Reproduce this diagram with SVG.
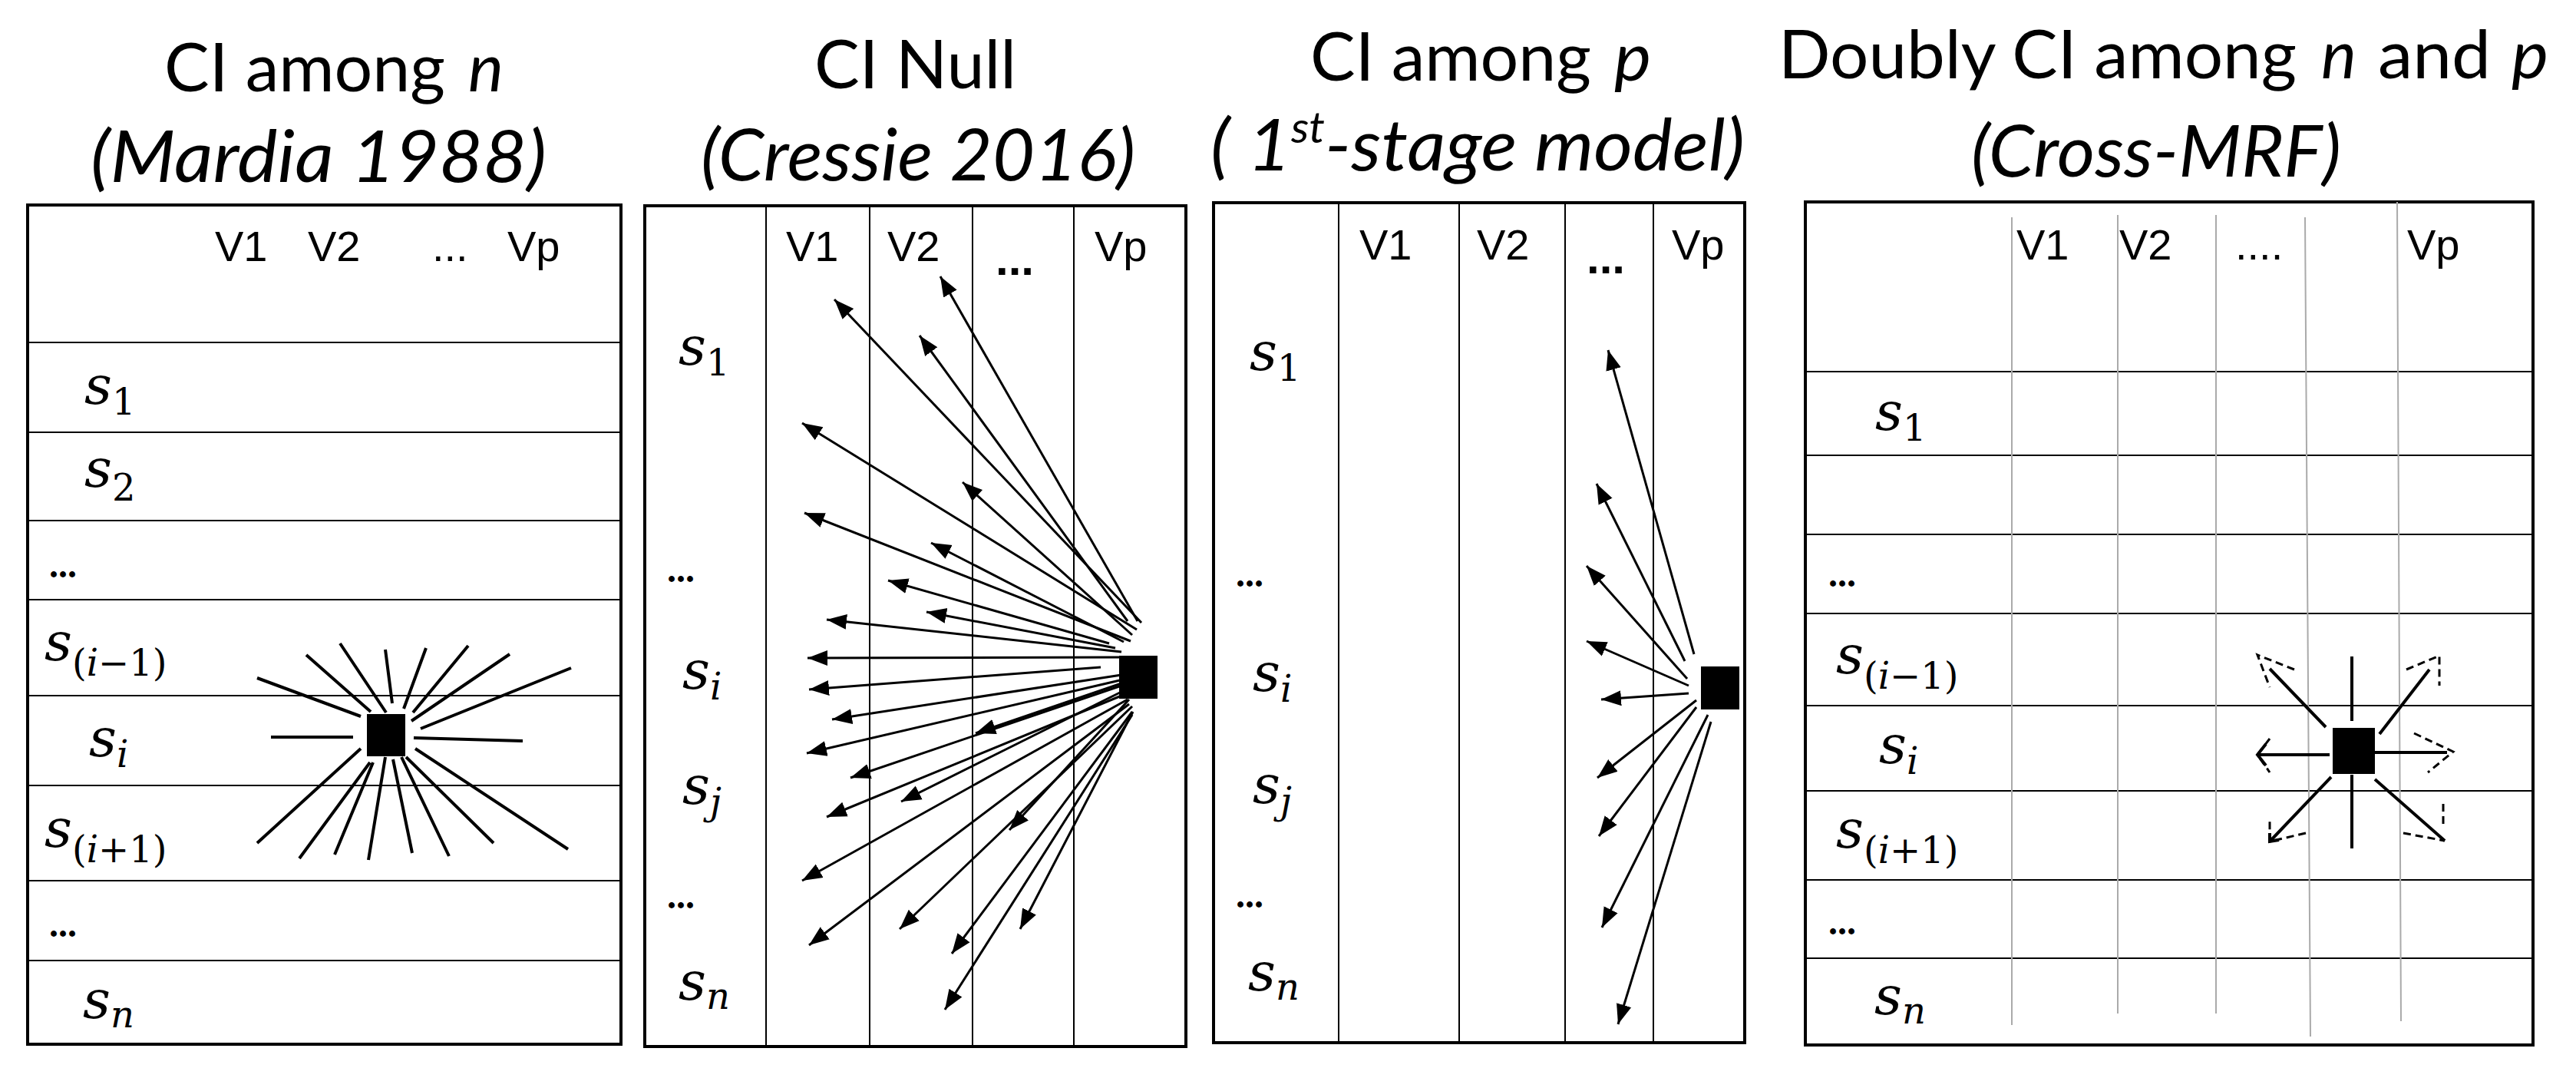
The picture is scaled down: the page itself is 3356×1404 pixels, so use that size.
<svg xmlns="http://www.w3.org/2000/svg" width="3356" height="1404" viewBox="0 0 3356 1404">
<style>
.title{font-family:Lato,"Liberation Sans",sans-serif;font-size:88px;fill:#000;text-anchor:start}
.t2{font-size:94px}
.hdr{font-family:"Liberation Sans",Arial,sans-serif;font-size:56px;fill:#000}
.dots{font-family:"Liberation Sans",Arial,sans-serif;font-size:60px;font-weight:bold;fill:#000}
.row{font-family:"DejaVu Serif",serif;font-size:70px;fill:#000}
.sub{font-size:48px}
.it{font-style:italic}
.box{fill:#fff;stroke:#000;stroke-width:4}
.grid{stroke:#000;stroke-width:2;fill:none}
.gray{stroke:#aaa;stroke-width:2;fill:none}
.rdots{font-family:"Liberation Serif",serif;font-size:48px;font-weight:bold;fill:#000}
.ray{stroke:#000;stroke-width:4;fill:none}
.arr{stroke:#000;stroke-width:3;fill:none;marker-end:url(#ah)}
.sol{stroke:#000;stroke-width:4;fill:none}
.dash{stroke:#000;stroke-width:3;fill:none;stroke-dasharray:10 6}
</style>
<defs>
<marker id="ah" markerUnits="userSpaceOnUse" markerWidth="28" markerHeight="22" refX="26" refY="10" orient="auto" viewBox="0 0 28 20">
<path d="M0,0 L26,10 L0,20 z" fill="#000"/>
</marker>
</defs>

<!-- Panel 1 -->
<g id="panel1">
<text class="title" x="214" y="119" textLength="366" lengthAdjust="spacingAndGlyphs">CI among</text>
<text class="title it" x="610" y="119" textLength="46" lengthAdjust="spacingAndGlyphs">n</text>
<text class="title t2 it" x="118" y="237" textLength="594" lengthAdjust="spacingAndGlyphs">(Mardia 1988)</text>
<rect class="box" x="36" y="267" width="773" height="1093"/>
<path class="grid" d="M36,446H809M36,563H809M36,678H809M36,781H809M36,906H809M36,1023H809M36,1147H809M36,1251H809"/>
<text class="hdr" x="280" y="340">V1</text>
<text class="hdr" x="401" y="340">V2</text>
<text class="hdr" x="563" y="340">...</text>
<text class="hdr" x="661" y="340">Vp</text>
<text class="row" x="110" y="526"><tspan class="it">s</tspan><tspan class="sub" dy="14">1</tspan></text>
<text class="row" x="110" y="634"><tspan class="it">s</tspan><tspan class="sub" dy="18">2</tspan></text>
<text class="rdots" x="64" y="752">...</text>
<text class="row" x="58" y="860"><tspan class="it">s</tspan><tspan class="sub" dy="20">(<tspan class="it">i</tspan>−1)</tspan></text>
<text class="row" x="116" y="985"><tspan class="it">s</tspan><tspan class="sub it" dy="14">i</tspan></text>
<text class="row" x="58" y="1103"><tspan class="it">s</tspan><tspan class="sub" dy="20">(<tspan class="it">i</tspan>+1)</tspan></text>
<text class="rdots" x="64" y="1220">...</text>
<text class="row" x="108" y="1326"><tspan class="it">s</tspan><tspan class="sub it" dy="12">n</tspan></text>
</g>
<g id="node1">
<rect x="478" y="930" width="50" height="55" fill="#000"/>
</g>

<!-- Panel 2 -->
<g id="panel2">
<text class="title" x="1061" y="115" textLength="263" lengthAdjust="spacingAndGlyphs">CI Null</text>
<text class="title t2 it" x="913" y="235" textLength="566" lengthAdjust="spacingAndGlyphs">(Cressie 2016)</text>
<rect class="box" x="840" y="268" width="705" height="1095"/>
<path class="grid" d="M998,268V1363M1133,268V1363M1267,268V1363M1399,268V1363"/>
<text class="hdr" x="1024" y="340">V1</text>
<text class="hdr" x="1156" y="340">V2</text>
<text class="dots" x="1297" y="358">...</text>
<text class="hdr" x="1426" y="340">Vp</text>
<text class="row" x="884" y="475"><tspan class="it">s</tspan><tspan class="sub" dy="14">1</tspan></text>
<text class="rdots" x="869" y="758">...</text>
<text class="row" x="889" y="897"><tspan class="it">s</tspan><tspan class="sub it" dy="14">i</tspan></text>
<text class="row" x="889" y="1047"><tspan class="it">s</tspan><tspan class="sub it" dy="14">j</tspan></text>
<text class="rdots" x="869" y="1183">...</text>
<text class="row" x="884" y="1302"><tspan class="it">s</tspan><tspan class="sub it" dy="12">n</tspan></text>
</g>
<g id="node2">
<rect x="1458" y="854" width="50" height="56" fill="#000"/>
</g>

<!-- Panel 3 -->
<g id="panel3">
<text class="title" x="1707" y="105" textLength="366" lengthAdjust="spacingAndGlyphs">CI among</text>
<text class="title it" x="2103" y="105" textLength="48" lengthAdjust="spacingAndGlyphs">p</text>
<text class="title t2 it" x="1577" y="222" textLength="696" lengthAdjust="spacingAndGlyphs">( 1<tspan font-size="56" dy="-36">st</tspan><tspan dy="36">-stage model)</tspan></text>
<rect class="box" x="1581" y="264" width="692" height="1094"/>
<path class="grid" d="M1744,264V1358M1901,264V1358M2039,264V1358M2154,264V1358"/>
<text class="hdr" x="1771" y="338">V1</text>
<text class="hdr" x="1924" y="338">V2</text>
<text class="dots" x="2067" y="356">...</text>
<text class="hdr" x="2178" y="338">Vp</text>
<text class="row" x="1628" y="482"><tspan class="it">s</tspan><tspan class="sub" dy="14">1</tspan></text>
<text class="rdots" x="1610" y="764">...</text>
<text class="row" x="1632" y="900"><tspan class="it">s</tspan><tspan class="sub it" dy="14">i</tspan></text>
<text class="row" x="1632" y="1046"><tspan class="it">s</tspan><tspan class="sub it" dy="14">j</tspan></text>
<text class="rdots" x="1610" y="1182">...</text>
<text class="row" x="1626" y="1290"><tspan class="it">s</tspan><tspan class="sub it" dy="12">n</tspan></text>
</g>
<g id="node3">
<rect x="2216" y="868" width="50" height="56" fill="#000"/>
</g>

<!-- Panel 4 -->
<g id="panel4">
<text class="title" x="2317" y="102" textLength="675" lengthAdjust="spacingAndGlyphs">Doubly CI among</text>
<text class="title it" x="3024" y="102" textLength="46" lengthAdjust="spacingAndGlyphs">n</text>
<text class="title" x="3098" y="102" textLength="147" lengthAdjust="spacingAndGlyphs">and</text>
<text class="title it" x="3272" y="102" textLength="48" lengthAdjust="spacingAndGlyphs">p</text>
<text class="title t2 it" x="2568" y="230" textLength="482" lengthAdjust="spacingAndGlyphs">(Cross-MRF)</text>
<rect class="box" x="2352" y="263" width="948" height="1098"/>
<path class="grid" d="M2352,484H3300M2352,593H3300M2352,696H3300M2352,799H3300M2352,919H3300M2352,1030H3300M2352,1146H3300M2352,1248H3300"/>
<path class="gray" d="M2621,283V1335M2759,280V1320M2887,280V1320M3003,283L3010,1350M3123,263L3128,1330"/>
<text class="hdr" x="2627" y="338">V1</text>
<text class="hdr" x="2761" y="338">V2</text>
<text class="hdr" x="2912" y="338">....</text>
<text class="hdr" x="3136" y="338">Vp</text>
<text class="row" x="2443" y="560"><tspan class="it">s</tspan><tspan class="sub" dy="14">1</tspan></text>
<text class="rdots" x="2382" y="764">...</text>
<text class="row" x="2392" y="877"><tspan class="it">s</tspan><tspan class="sub" dy="20">(<tspan class="it">i</tspan>−1)</tspan></text>
<text class="row" x="2448" y="994"><tspan class="it">s</tspan><tspan class="sub it" dy="14">i</tspan></text>
<text class="row" x="2392" y="1104"><tspan class="it">s</tspan><tspan class="sub" dy="20">(<tspan class="it">i</tspan>+1)</tspan></text>
<text class="rdots" x="2382" y="1217">...</text>
<text class="row" x="2442" y="1321"><tspan class="it">s</tspan><tspan class="sub it" dy="12">n</tspan></text>
</g>
<g id="node4">
<rect x="3039" y="948" width="55" height="60" fill="#000"/>
</g>

<g id="connectors">
<g id="rays1">
<path class="ray" d="M470,933L335,883M483,927L399,853M503,928L443,838M511,916L502,846M526,923L555,844M538,928L610,841M536,939L664,852M548,949L744,870M460,960L353,960M539,961L681,965M470,975L335,1098M482,993L390,1118M486,993L436,1113M502,986L480,1120M512,989L537,1111M523,986L585,1115M529,986L643,1098M541,975L740,1106"/>
</g>
<g id="arrows2">
<line class="arr" x1="1487" y1="811" x2="1087" y2="390"/>
<line class="arr" x1="1482" y1="809" x2="1225" y2="360"/>
<line class="arr" x1="1469" y1="809" x2="1198" y2="437"/>
<line class="arr" x1="1481" y1="820" x2="1045" y2="551"/>
<line class="arr" x1="1475" y1="827" x2="1254" y2="628"/>
<line class="arr" x1="1473" y1="835" x2="1048" y2="668"/>
<line class="arr" x1="1464" y1="836" x2="1213" y2="707"/>
<line class="arr" x1="1445" y1="838" x2="1157" y2="756"/>
<line class="arr" x1="1453" y1="844" x2="1207" y2="797"/>
<line class="arr" x1="1461" y1="849" x2="1077" y2="807"/>
<line class="arr" x1="1459" y1="856" x2="1052" y2="857"/>
<line class="arr" x1="1434" y1="869" x2="1054" y2="898"/>
<line class="arr" x1="1461" y1="879" x2="1084" y2="937"/>
<line class="arr" x1="1459" y1="886" x2="1051" y2="981"/>
<line class="arr" x1="1461" y1="890" x2="1271" y2="955"/>
<line class="arr" x1="1461" y1="893" x2="1108" y2="1013"/>
<line class="arr" x1="1463" y1="900" x2="1174" y2="1044"/>
<line class="arr" x1="1466" y1="904" x2="1077" y2="1064"/>
<line class="arr" x1="1471" y1="911" x2="1315" y2="1081"/>
<line class="arr" x1="1469" y1="911" x2="1045" y2="1147"/>
<line class="arr" x1="1471" y1="917" x2="1054" y2="1231"/>
<line class="arr" x1="1475" y1="920" x2="1172" y2="1210"/>
<line class="arr" x1="1475" y1="927" x2="1240" y2="1242"/>
<line class="arr" x1="1476" y1="927" x2="1329" y2="1210"/>
<line class="arr" x1="1475" y1="931" x2="1231" y2="1315"/>
</g>
<g id="arrows3">
<line class="arr" x1="2207" y1="852" x2="2095" y2="456"/>
<line class="arr" x1="2195" y1="861" x2="2080" y2="630"/>
<line class="arr" x1="2198" y1="884" x2="2067" y2="737"/>
<line class="arr" x1="2200" y1="893" x2="2067" y2="835"/>
<line class="arr" x1="2200" y1="903" x2="2086" y2="911"/>
<line class="arr" x1="2210" y1="912" x2="2081" y2="1013"/>
<line class="arr" x1="2210" y1="921" x2="2083" y2="1089"/>
<line class="arr" x1="2225" y1="931" x2="2087" y2="1208"/>
<line class="arr" x1="2229" y1="940" x2="2108" y2="1334"/>
</g>
<g id="star4">
<path class="sol" d="M3064,855V939M3064,1009V1105M3035,983H2941M3094,980H3188M3030,947L2957,871M3100,956L3165,872M3037,1012L2957,1096M3094,1015L3185,1095"/>
<path class="sol" d="M2952,969L2941,983L2952,997M2957,1085L2957,1096L2969,1094"/>
<path class="dash" d="M2957,962L2941,983L2957,1006M3145,955L3196,979L3163,1006M2989,872L2941,853L2957,895M3135,872L3178,854L3178,893M3004,1085L2957,1096L2957,1070M3131,1085L3185,1095M3183,1047L3183,1077"/>
</g>
</g>
</svg>
